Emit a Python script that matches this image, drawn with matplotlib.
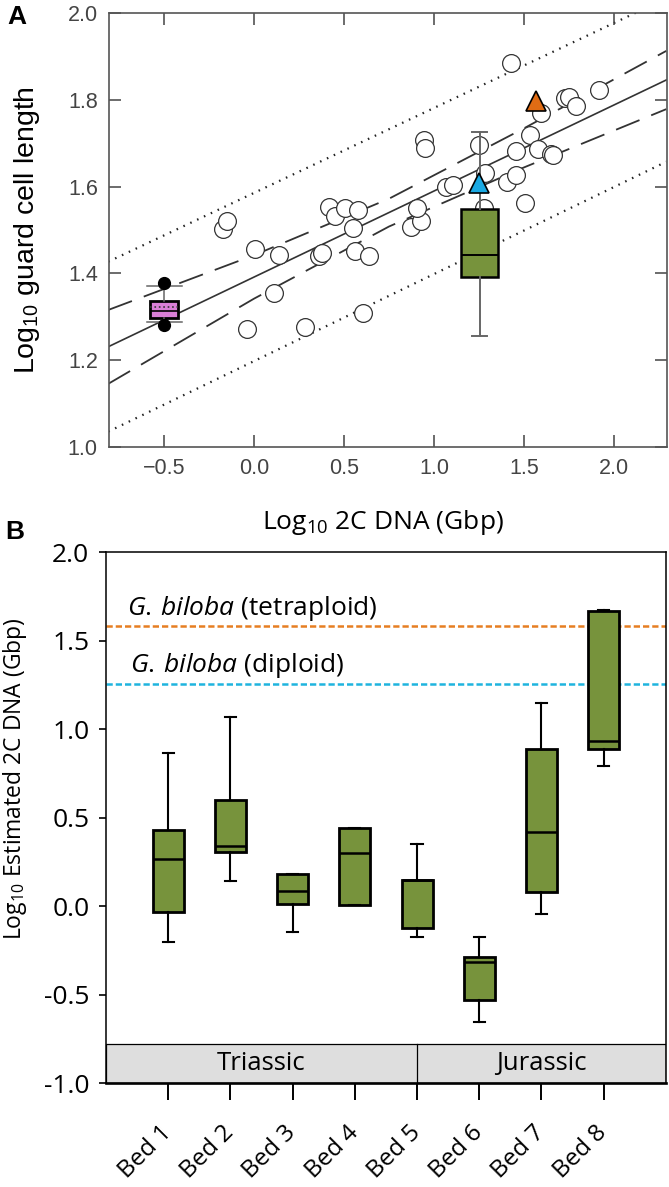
import numpy as np
import matplotlib.pyplot as plt
from matplotlib.transforms import ScaledTranslation

plt.rcParams['mathtext.fontset'] = 'custom'
plt.rcParams['mathtext.rm'] = 'Open Sans'
plt.rcParams['mathtext.it'] = 'Open Sans:italic'

# ---- panel A data: guard cell length vs genome size ----
gc_x = [-0.17, -0.15, 0.006, -0.041, 0.111, 0.141, 0.283, 0.363, 0.376, 0.418,
        0.452, 0.506, 0.552, 0.561, 0.580, 0.604, 0.641, 0.87, 0.93, 0.907,
        0.944, 0.948, 1.068, 1.106, 1.25, 1.278, 1.283, 1.404, 1.426, 1.454,
        1.454, 1.504, 1.533, 1.576, 1.596, 1.648, 1.66, 1.73, 1.75, 1.79, 1.917]
gc_y = [1.503, 1.521, 1.456, 1.272, 1.356, 1.442, 1.276, 1.440, 1.448, 1.552,
        1.532, 1.550, 1.505, 1.452, 1.546, 1.310, 1.440, 1.508, 1.520, 1.550,
        1.707, 1.689, 1.600, 1.604, 1.696, 1.550, 1.632, 1.611, 1.884, 1.627,
        1.682, 1.561, 1.719, 1.686, 1.769, 1.675, 1.672, 1.803, 1.805, 1.785, 1.821]

# regression line, 95% confidence band and prediction band
fit_x = [-0.81, 2.29]
fit_y = [1.2313, 1.8451]
ci_x = [-0.81, 0.0, 0.75, 1.5, 2.29]
ci_hi = [1.316, 1.442, 1.572, 1.734, 1.912]
ci_lo = [1.146, 1.342, 1.508, 1.644, 1.778]
pi_x = [-0.81, 2.29]
pi_hi = [1.427, 2.033]
pi_lo = [1.036, 1.657]

# modern Ginkgo (pink box) and fossil estimate (green box)
pink_stats = dict(med=1.314, q1=1.297, q3=1.337, whislo=1.289, whishi=1.372,
                  mean=1.322, fliers=[1.379, 1.281])
fossil_stats = dict(med=1.443, q1=1.391, q3=1.548, whislo=1.256, whishi=1.725)
diploid_pt = (1.25, 1.609)
tetraploid_pt = (1.568, 1.797)

# ---- panel B data: estimated genome size per bed ----
bed_labels = ['Bed 1', 'Bed 2', 'Bed 3', 'Bed 4', 'Bed 5', 'Bed 6', 'Bed 7', 'Bed 8']
bed_whislo = [-0.200, 0.144, -0.144, 0.009, -0.172, -0.653, -0.041, 0.793]
bed_q1 = [-0.034, 0.304, 0.013, 0.009, -0.125, -0.528, 0.080, 0.891]
bed_med = [0.265, 0.341, 0.088, 0.299, 0.149, -0.317, 0.422, 0.934]
bed_q3 = [0.433, 0.598, 0.183, 0.440, 0.149, -0.287, 0.889, 1.669]
bed_whishi = [0.868, 1.068, 0.183, 0.440, 0.354, -0.172, 1.148, 1.673]
tetraploid_level = 1.583
diploid_level = 1.256
eras = ['Triassic', 'Jurassic']
era_bounds = [0, 5, 9]

GREEN = '#77933C'

fig = plt.figure(figsize=(6.69, 11.87), dpi=100)

# ================= panel A =================
ax1 = fig.add_axes([0.1629, 0.6232, 0.834, 0.3661])
ax1.plot(pi_x, pi_hi, color='#222', lw=1.6, dashes=(0.7, 2.7), zorder=1)
ax1.plot(pi_x, pi_lo, color='#222', lw=1.6, dashes=(0.7, 2.7), zorder=1)
ax1.plot(ci_x, ci_hi, color='#333', lw=1.3, dashes=(14, 7), zorder=1)
ax1.plot(ci_x, ci_lo, color='#333', lw=1.3, dashes=(14, 7), zorder=1)
ax1.plot(fit_x, fit_y, color='#333', lw=1.2, zorder=1)

ax1.plot(gc_x, gc_y, 'o', ms=12.8, mfc='white', mec='#333', mew=0.9,
         linestyle='none', zorder=2)

ax1.bxp([pink_stats], positions=[-0.5], widths=0.153, capwidths=0.194,
        patch_artist=True, showmeans=True, meanline=True, manage_ticks=False,
        boxprops=dict(facecolor='#DA7FD7', edgecolor='black', linewidth=2.0),
        medianprops=dict(color='black', lw=1.2),
        meanprops=dict(color='#333', ls=':', lw=1.2),
        whiskerprops=dict(color='#666', lw=1.1),
        capprops=dict(color='#666', lw=1.1),
        flierprops=dict(marker='o', mfc='black', mec='black', ms=8.5),
        zorder=3)
ax1.bxp([fossil_stats], positions=[1.254], widths=0.207, capwidths=0.083,
        patch_artist=True, showfliers=False, manage_ticks=False,
        boxprops=dict(facecolor=GREEN, edgecolor='black', linewidth=1.8),
        medianprops=dict(color='black', lw=1.4),
        whiskerprops=dict(color='#666', lw=1.4),
        capprops=dict(color='#666', lw=1.4),
        zorder=3)

ax1.plot(*diploid_pt, '^', ms=14, mfc='#1AA9E3', mec='black', mew=1.2, zorder=4)
ax1.plot(*tetraploid_pt, '^', ms=14, mfc='#E06C14', mec='black', mew=1.2, zorder=4)

ax1.set_xlim(-0.806, 2.294)
ax1.set_ylim(1.0, 2.0)
ax1.set_xticks([-0.5, 0.0, 0.5, 1.0, 1.5, 2.0])
ax1.set_yticks([1.0, 1.2, 1.4, 1.6, 1.8, 2.0])
ax1.tick_params(direction='in', length=8.5, width=1.1, color='#444',
                top=True, right=True, labelsize=15.5, labelcolor='#444', pad=8)
for lab in ax1.get_xticklabels() + ax1.get_yticklabels():
    lab.set_family('Liberation Sans')
for sp in ax1.spines.values():
    sp.set_color('#555')
    sp.set_linewidth(1.2)
ax1.set_ylabel(r'Log$_\mathregular{10}$ guard cell length',
               fontsize=20.5, family='Liberation Sans')
ax1.yaxis.set_label_coords(-0.12, 0.5)
ax1.set_xlabel(r'Log$_\mathregular{10}$ 2C DNA (Gbp)', fontsize=19,
               family='Open Sans')
ax1.xaxis.set_label_coords(0.491, -0.14)

# ================= panel B =================
ax2 = fig.add_axes([0.1584, 0.0874, 0.837, 0.4473])
bed_pos = np.arange(1, len(bed_labels) + 1)
stats = [dict(whislo=a, q1=b, med=c, q3=d, whishi=e)
         for a, b, c, d, e in zip(bed_whislo, bed_q1, bed_med, bed_q3, bed_whishi)]
ax2.bxp(stats, positions=bed_pos, widths=0.5, capwidths=0.18,
        patch_artist=True, showfliers=False, manage_ticks=False,
        boxprops=dict(facecolor=GREEN, edgecolor='black', linewidth=2.0),
        medianprops=dict(color='black', lw=1.8),
        whiskerprops=dict(color='black', lw=1.5),
        capprops=dict(color='black', lw=1.5),
        zorder=3)

ax2.axhline(tetraploid_level, color='#E67E22', lw=1.8, dashes=(2.5, 1.2), zorder=2)
ax2.axhline(diploid_level, color='#1FB4DE', lw=1.8, dashes=(2.5, 1.2), zorder=2)
ax2.text(0.33, tetraploid_level + 0.02, r'$\mathit{G.\,biloba}$ (tetraploid)',
         fontsize=19, family='Open Sans', va='bottom', ha='left')
ax2.text(0.38, diploid_level + 0.02, r'$\mathit{G.\,biloba}$ (diploid)',
         fontsize=19, family='Open Sans', va='bottom', ha='left')

# era band
ax2.axhspan(-1.0, -0.78, facecolor='#DEDEDE', edgecolor='black', lw=0.9, zorder=1)
ax2.plot([era_bounds[1]] * 2, [-1.0, -0.78], color='black', lw=0.9, zorder=1)
for name, lo, hi in zip(eras, era_bounds[:-1], era_bounds[1:]):
    ax2.text((lo + hi) / 2, -0.89, name, ha='center', va='center',
             fontsize=18.5, family='Open Sans')

ax2.set_xlim(0, 9)
ax2.set_ylim(-1.0, 2.0)
yt = [-1.0, -0.5, 0.0, 0.5, 1.0, 1.5, 2.0]
ax2.set_yticks(yt)
ax2.set_yticklabels([f'{v:.1f}' for v in yt], family='Open Sans', fontsize=19)
ax2.set_xticks(bed_pos)
ax2.set_xticklabels(bed_labels, rotation=45, ha='right', va='center',
                    rotation_mode='anchor', family='Open Sans', fontsize=17.5)
off = ScaledTranslation(17 / 100, 0, fig.dpi_scale_trans)
for lab in ax2.get_xticklabels():
    lab.set_transform(lab.get_transform() + off)
ax2.tick_params(axis='x', direction='out', length=12, width=1.4, pad=21)
ax2.tick_params(axis='y', direction='out', length=5, width=1.2, pad=7)
for sp in ax2.spines.values():
    sp.set_linewidth(1.1)
ax2.spines['bottom'].set_linewidth(1.9)
ax2.set_ylabel(r'Log$_\mathregular{10}$ Estimated 2C DNA (Gbp)',
               fontsize=16.5, family='Open Sans')
ax2.yaxis.set_label_coords(-0.137, 0.573)

fig.text(17 / 669, 1 - 17 / 1187, 'A', fontsize=19, fontweight='bold',
         family='Liberation Sans', ha='center', va='center')
fig.text(15 / 669, 1 - 532 / 1187, 'B', fontsize=19, fontweight='bold',
         family='Liberation Sans', ha='center', va='center')

fig.savefig('out.png', dpi=100)
